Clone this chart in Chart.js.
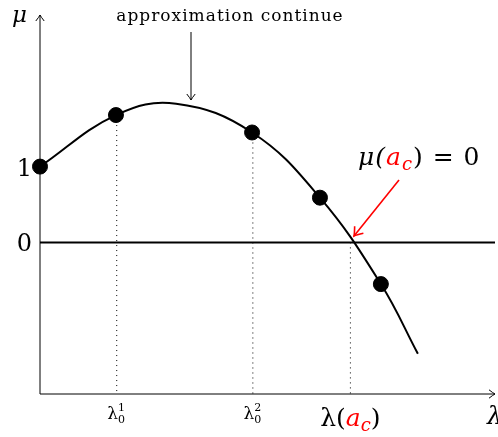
<!DOCTYPE html>
<html>
<head>
<meta charset="utf-8">
<script src="https://cdn.jsdelivr.net/npm/chart.js@4/dist/chart.umd.min.js"></script>
<style>
  html, body { margin: 0; padding: 0; background: #fff; }
  #wrap { width: 498px; height: 437px; }
</style>
</head>
<body>
<div id="wrap"><canvas id="chart" width="498" height="437"></canvas></div>
<script>
// curve (lambda, mu)
const curveX = [0, 1.97, 3.53, 5.50, 7.26, 8.84, 9.80];
const curveY = [1, 1.68, 1.83, 1.45, 0.59, -0.55, -1.47];

// black dots on the curve
const dotX = [0, 1.97, 5.50, 7.26, 8.84];
const dotY = [1, 1.68, 1.45, 0.59, -0.55];

// dotted drops to the lambda axis
const dropX = [1.99, 5.52, 8.05];
const dropTop = [1.68, 1.45, 0];

// tick labels
const yTickValues = [1, 0];
const yTickLabels = ['1', '0'];
const xTickValues = [1.99, 5.52];
const xTickSup = ['1', '2'];

const xMax = 11.8, yMin = -2, yMax = 3;

const serif = '"DejaVu Serif", "Liberation Serif", serif';

function arrowHead(ctx, x, y, angle, size) {
    // open tikz-like arrow tip
    ctx.save();
    ctx.translate(x, y);
    ctx.rotate(angle);
    ctx.beginPath();
    ctx.moveTo(-size, -size * 0.7);
    ctx.quadraticCurveTo(-size * 0.3, -size * 0.15, 0, 0);
    ctx.quadraticCurveTo(-size * 0.3, size * 0.15, -size, size * 0.7);
    ctx.stroke();
    ctx.restore();
}

function arrow(ctx, x1, y1, x2, y2, color, width, size) {
    ctx.save();
    ctx.strokeStyle = color;
    ctx.lineWidth = width;
    ctx.beginPath();
    ctx.moveTo(x1, y1);
    ctx.lineTo(x2, y2);
    ctx.stroke();
    arrowHead(ctx, x2, y2, Math.atan2(y2 - y1, x2 - x1), size);
    ctx.restore();
}

// draws pieces of text one after another: [text, font, color, dy, advance]
function runs(ctx, x, y, parts, align) {
    let total = 0;
    parts.forEach(p => { ctx.font = p[1]; total += p[4] !== undefined ? p[4] : ctx.measureText(p[0]).width; });
    let cx = align === 'center' ? x - total / 2 : x;
    parts.forEach(p => {
        ctx.font = p[1];
        ctx.fillStyle = p[2];
        ctx.fillText(p[0], cx, y + (p[3] || 0));
        cx += p[4] !== undefined ? p[4] : ctx.measureText(p[0]).width;
    });
}

const axesPlugin = {
    id: 'axesPlugin',
    afterDatasetsDraw(chart) {
        const ctx = chart.ctx;
        const xs = chart.scales.x, ys = chart.scales.y;
        const x0 = xs.getPixelForValue(0);
        const yb = ys.getPixelForValue(yMin);
        const yt = ys.getPixelForValue(yMax);
        const xr = xs.getPixelForValue(xMax);

        ctx.save();
        // axes with arrows
        arrow(ctx, x0, yb, x0, yt, '#000', 1, 6);
        arrow(ctx, x0, yb, xr, yb, '#000', 1, 6);

        ctx.textBaseline = 'alphabetic';
        ctx.textAlign = 'left';

        // axis names
        runs(ctx, 12, 22, [['μ', 'italic 23px ' + serif, '#000']]);
        runs(ctx, 487, 424, [['λ', 'italic 24px ' + serif, '#000']]);

        // y ticks
        yTickValues.forEach((v, i) => {
            ctx.font = '24px ' + serif;
            ctx.fillStyle = '#000';
            ctx.textAlign = 'right';
            ctx.fillText(yTickLabels[i], 32, ys.getPixelForValue(v) + 9);
        });
        ctx.textAlign = 'left';

        // lambda_0^k ticks
        xTickValues.forEach((v, i) => {
            const px = xs.getPixelForValue(v);
            ctx.font = '17px ' + serif;
            const w = ctx.measureText('λ').width;
            const left = px - (w + 8) / 2;
            runs(ctx, left, 419, [
                ['λ', '17px ' + serif, '#000', 0],
                [xTickSup[i], '11px ' + serif, '#000', -8, 0],
                ['0', '11px ' + serif, '#000', 4]
            ]);
        });

        // lambda(a_c)
        const pac = xs.getPixelForValue(dropX[2]);
        runs(ctx, pac, 426, [
            ['λ(', '25px ' + serif, '#000'],
            ['a', 'italic 25px ' + serif, '#f00'],
            ['c', 'italic 18px ' + serif, '#f00', 5],
            [')', '25px ' + serif, '#000']
        ], 'center');

        // mu(a_c) = 0
        ctx.letterSpacing = '1px';
        runs(ctx, 358, 165, [
            ['μ(', 'italic 25px ' + serif, '#000'],
            ['a', 'italic 25px ' + serif, '#f00'],
            ['c', 'italic 18px ' + serif, '#f00', 5],
            [') = 0', '25px ' + serif, '#000']
        ]);

        // approximation continue
        runs(ctx, 230, 21, [['approximation continue', '17px ' + serif, '#000']], 'center');
        ctx.letterSpacing = '0px';
        arrow(ctx, 191, 32, 191, 100, '#000', 1, 6);

        // red arrow to the root
        arrow(ctx, 399, 180, 354, 236, '#f00', 1.6, 8);
        ctx.restore();
    }
};

const drops = dropX.map((x, i) => ({
    data: [{ x: x, y: dropTop[i] }, { x: x, y: yMin }],
    borderColor: '#000',
    borderWidth: 1,
    borderDash: [1, 4],
    pointRadius: 0,
    showLine: true,
    order: 3
}));

new Chart(document.getElementById('chart'), {
    type: 'scatter',
    data: {
        datasets: [
            {
                data: [{ x: 0, y: 0 }, { x: xMax, y: 0 }],
                borderColor: '#000',
                borderWidth: 2,
                pointRadius: 0,
                showLine: true,
                order: 2
            },
            ...drops,
            {
                data: curveX.map((x, i) => ({ x: x, y: curveY[i] })),
                borderColor: '#000',
                borderWidth: 2,
                pointRadius: 0,
                showLine: true,
                tension: 0.4,
                order: 1
            },
            {
                data: dotX.map((x, i) => ({ x: x, y: dotY[i] })),
                backgroundColor: '#000',
                borderColor: '#000',
                pointRadius: 7.5,
                showLine: false,
                clip: false,
                order: 0
            }
        ]
    },
    options: {
        responsive: false,
        animation: false,
        layout: { autoPadding: false, padding: { left: 40, right: 3, top: 15, bottom: 43 } },
        plugins: { legend: { display: false }, tooltip: { enabled: false } },
        scales: {
            x: { type: 'linear', min: 0, max: xMax, display: false },
            y: { type: 'linear', min: yMin, max: yMax, display: false }
        }
    },
    plugins: [axesPlugin]
});
</script>
</body>
</html>
